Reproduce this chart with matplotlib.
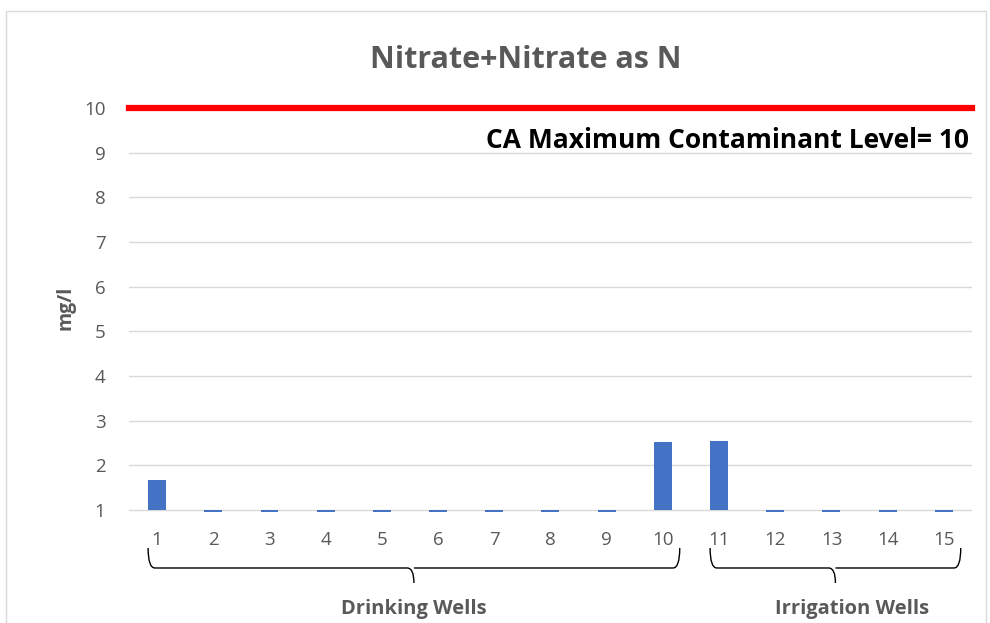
import matplotlib
matplotlib.use("Agg")
import matplotlib.pyplot as plt
from matplotlib.path import Path
from matplotlib.patches import PathPatch, Rectangle
from matplotlib.transforms import blended_transform_factory

plt.rcParams['font.family'] = ['Open Sans', 'DejaVu Sans']

wells = list(range(1, 16))
nitrate = [1.68, 0.96, 0.96, 0.96, 0.96, 0.96, 0.96, 0.96, 0.96, 2.52,
           2.55, 0.96, 0.96, 0.96, 0.96]
mcl = 10
groups = ["Drinking Wells", "Irrigation Wells"]
group_spans = [(1, 10), (11, 15)]

grey = "#595959"
fig = plt.figure(figsize=(9.9, 6.23), dpi=100)
ax = fig.add_axes([0.1303, 0.1785, 0.8515, 0.6554])

base = 1
ax.bar(wells, [v - base for v in nitrate], bottom=base, width=0.32,
       color="#4472C4", zorder=3)
ax.axhline(mcl, color="#FF0000", lw=4.5, zorder=4, clip_on=False)
ax.text(15.45, 9.27, "CA Maximum Contaminant Level= 10", ha="right", va="center",
        fontsize=19, fontweight="bold", color="black")

ax.set_xlim(0.5, 15.5)
ax.set_ylim(0.96, 10.1)
ax.set_yticks(range(1, 11))
ax.set_xticks(wells)
ax.grid(axis="y", color="#D9D9D9", lw=1, zorder=0)
ax.tick_params(length=0, labelsize=13.5, colors=grey, pad=17)
ax.tick_params(axis="x", pad=14)
for s in ax.spines.values():
    s.set_visible(False)
ax.set_ylabel("mg/l", fontsize=14, fontweight="bold", color=grey, labelpad=6)
fig.text(0.531, 0.903, "Nitrate+Nitrate as N", ha="center", va="center",
         fontsize=22, fontweight="bold", color=grey)

# group braces under the axis
tr = blended_transform_factory(ax.transData, fig.transFigure)
y_top, y_mid, y_tip = 0.1204, 0.0883, 0.0642
for name, (a, b) in zip(groups, group_spans):
    x0, x1 = a - 0.16, b + 0.30
    xc = (x0 + x1) / 2
    r = 0.12
    verts = [(x0, y_top), (x0, y_mid), (x0 + r, y_mid),
             (xc - r, y_mid), (xc, y_mid), (xc, y_tip),
             (xc, y_mid), (xc + r, y_mid),
             (x1 - r, y_mid), (x1, y_mid), (x1, y_top)]
    codes = [Path.MOVETO, Path.CURVE3, Path.CURVE3,
             Path.LINETO, Path.CURVE3, Path.CURVE3,
             Path.MOVETO, Path.LINETO,
             Path.LINETO, Path.CURVE3, Path.CURVE3]
    fig.add_artist(PathPatch(Path(verts, codes), transform=tr, fill=False,
                             lw=1, color="black"))
    tx = xc if a == 1 else xc + 0.3
    fig.text(tx, 0.022, name, transform=tr, ha="center", va="center",
             fontsize=14.5, fontweight="bold", color=grey)

fig.add_artist(Rectangle((0.006, -0.02), 0.99, 1.003, transform=fig.transFigure,
                         fill=False, lw=1, edgecolor="#D9D9D9"))
fig.savefig("out.png", dpi=100)
